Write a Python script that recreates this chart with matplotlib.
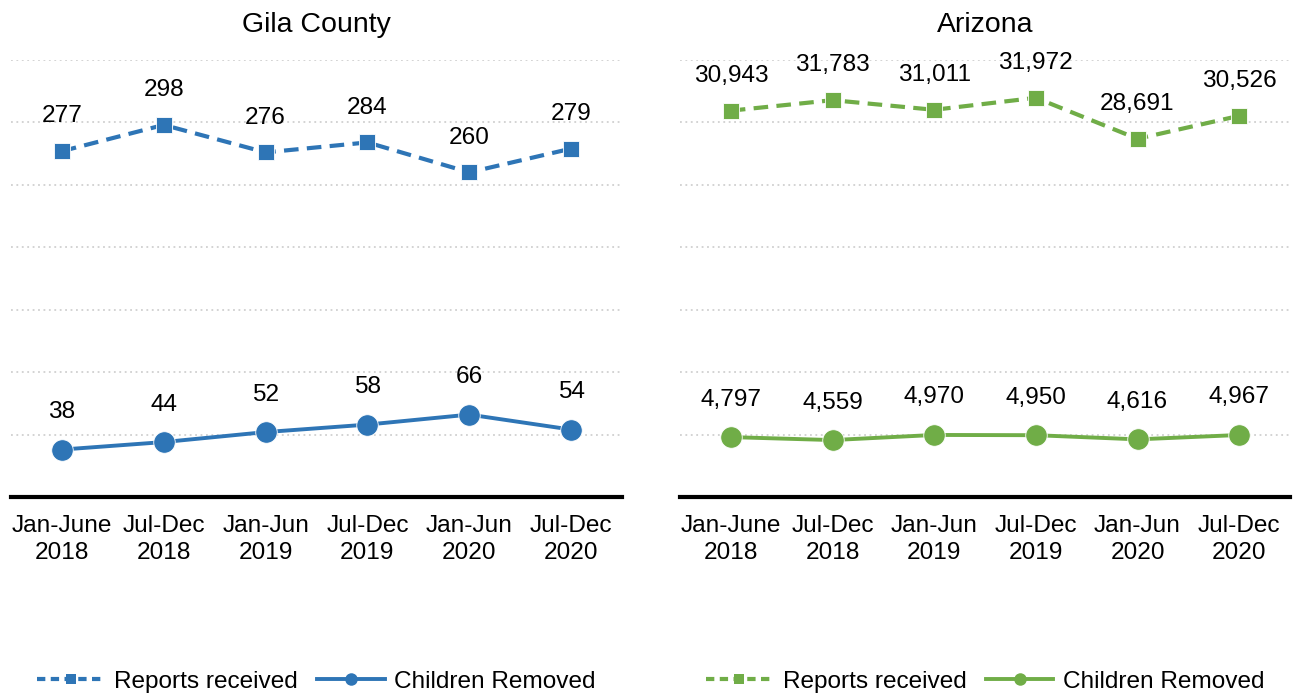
import numpy as np
import matplotlib
matplotlib.use("Agg")
import matplotlib.pyplot as plt
from matplotlib.lines import Line2D

plt.rcParams['font.family'] = ['Liberation Sans', 'DejaVu Sans']

periods = ["Jan-June\n2018", "Jul-Dec\n2018", "Jan-Jun\n2019",
           "Jul-Dec\n2019", "Jan-Jun\n2020", "Jul-Dec\n2020"]

gila_reports = [277, 298, 276, 284, 260, 279]
gila_removed = [38, 44, 52, 58, 66, 54]

az_reports = [30943, 31783, 31011, 31972, 28691, 30526]
az_removed = [4797, 4559, 4970, 4950, 4616, 4967]

BLUE = '#2E75B6'
GREEN = '#70AD47'
FS = 17.6

fig = plt.figure(figsize=(12.96, 6.94), dpi=100)
ax_l = fig.add_axes([11 / 1296, 197 / 694, 611 / 1296, 437 / 694])
ax_r = fig.add_axes([680 / 1296, 197 / 694, 610 / 1296, 437 / 694])


def draw_panel(ax, title, reports, removed, color, ymax, step):
    x = np.arange(len(periods))
    ax.set_xlim(-0.5, len(periods) - 0.5)
    ax.set_ylim(0, ymax)

    # dotted horizontal gridlines, no line at zero (axis line sits there)
    for yv in np.arange(step, ymax + step / 2, step):
        ax.axhline(yv, color='#D0D0D0', lw=1.3, ls=(0, (1, 2)), zorder=0)

    ax.plot(x, reports, color=color, lw=3, ls=(0, (3.5, 2)),
            marker='s', ms=11.5, mec='white', mew=0.6, zorder=3)
    ax.plot(x, removed, color=color, lw=2.8, ls='-',
            marker='o', ms=15.5, mec='white', mew=0.6, zorder=3)

    for xi, v in zip(x, reports):
        ax.annotate(f"{v:,}", (xi, v), xytext=(0, 25), textcoords='offset points',
                    ha='center', va='center', fontsize=FS)
    for xi, v in zip(x, removed):
        ax.annotate(f"{v:,}", (xi, v), xytext=(0, 27), textcoords='offset points',
                    ha='center', va='center', fontsize=FS)

    for side in ['top', 'left', 'right']:
        ax.spines[side].set_visible(False)
    ax.spines['bottom'].set_linewidth(3)
    ax.spines['bottom'].set_color('black')
    ax.set_yticks([])
    ax.set_xticks(x)
    ax.set_xticklabels(periods, fontsize=FS, linespacing=1.32)
    ax.tick_params(axis='x', length=0, pad=13)
    ax.set_title(title, fontsize=20.5, pad=20)

    handles = [
        Line2D([], [], color=color, lw=3, ls=(0, (2, 1.3)), marker='s', ms=7.5, mew=0),
        Line2D([], [], color=color, lw=2.8, ls='-', marker='o', ms=9, mew=0),
    ]
    bb = ax.get_position()
    fig.legend(handles, ["Reports received", "Children Removed"],
               loc='center', bbox_to_anchor=((bb.x0 + bb.x1) / 2, 0.018),
               ncol=2, frameon=False, fontsize=FS, handlelength=2.75,
               handletextpad=0.4, columnspacing=0.8)


draw_panel(ax_l, "Gila County", gila_reports, gila_removed, BLUE, 350, 50)
draw_panel(ax_r, "Arizona", az_reports, az_removed, GREEN, 35000, 5000)

fig.savefig("out.png", dpi=100)
